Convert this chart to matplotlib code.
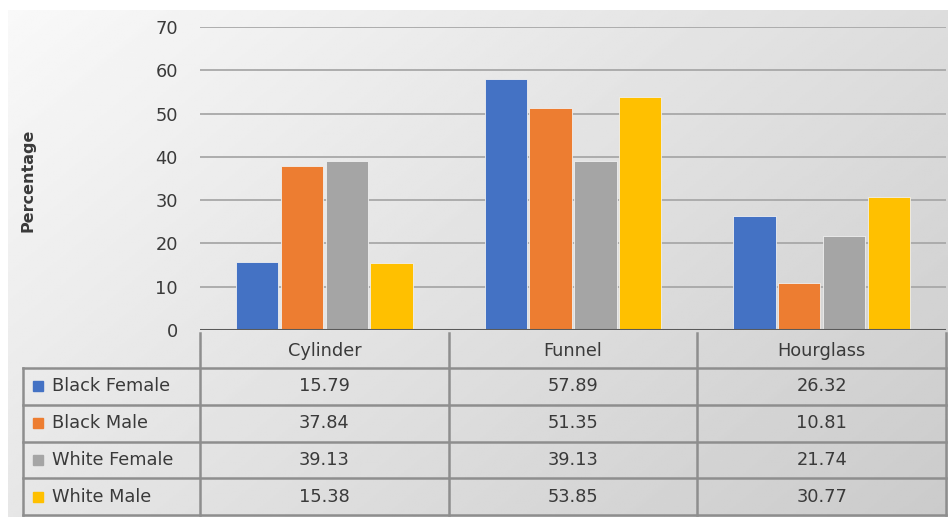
import matplotlib
matplotlib.use("Agg")
import matplotlib.pyplot as plt
import numpy as np

categories = ["Cylinder", "Funnel", "Hourglass"]
series = ["Black Female", "Black Male", "White Female", "White Male"]
black_female = [15.79, 57.89, 26.32]
black_male = [37.84, 51.35, 10.81]
white_female = [39.13, 39.13, 21.74]
white_male = [15.38, 53.85, 30.77]
values = [black_female, black_male, white_female, white_male]
colors = ["#4472C4", "#ED7D31", "#A5A5A5", "#FFC000"]
yticks = [0, 10, 20, 30, 40, 50, 60, 70]

W, H = 949, 519
plt.rcParams['font.family'] = ['DejaVu Sans']
txt = "#3a3a3a"
fs = 12.8

fig = plt.figure(figsize=(W / 100, H / 100), dpi=100)

# background gradient (light top-left -> grey bottom-right)
bg = fig.add_axes([0, 0, 1, 1], zorder=0)
gx, gy = np.meshgrid(np.linspace(0, 1, 300), np.linspace(0, 1, 200))
g = 0.975 - 0.18 * (0.6 * gx + 0.4 * gy)
bg.imshow(g, cmap="gray", vmin=0, vmax=1, aspect="auto",
          extent=[8, 948, 517, 10])
bg.set_xlim(0, W)
bg.set_ylim(H, 0)
bg.axis("off")

# plot area in pixel terms
x0, x1 = 200, 946
ytop, ybot = 27, 330
ax = fig.add_axes([x0 / W, 1 - ybot / H, (x1 - x0) / W, (ybot - ytop) / H], zorder=2)
ax.patch.set_alpha(0)

x = np.arange(len(categories))
width = 0.17
step = 0.18
for i, (name, vals) in enumerate(zip(series, values)):
    ax.bar(x + (i - 1.5) * step, vals, width, color=colors[i], edgecolor="#f0f0f0",
           linewidth=0.6, zorder=3, label=name)

ax.set_xlim(-0.5, len(categories) - 0.5)
ax.set_ylim(0, 70)
ax.set_yticks(yticks)
ax.set_yticklabels([str(t) for t in yticks], color=txt, fontsize=fs)
ax.set_xticks([])
ax.tick_params(axis="y", length=0, pad=16)
ax.yaxis.grid(True, color="#a8a8a8", linewidth=1.3, zorder=0)
for s in ["top", "right", "left", "bottom"]:
    ax.spines[s].set_visible(False)
ax.axhline(0, color="#5a5a5a", linewidth=2.2, zorder=4)

fig.text(28 / W, 1 - 180 / H, "Percentage", rotation=90, ha="center", va="center",
         fontsize=11.5, fontweight="bold", color=txt)

# data table under the axis
tab = fig.add_axes([0, 0, 1, 1], zorder=3)
tab.patch.set_alpha(0)
tab.set_xlim(0, W)
tab.set_ylim(H, 0)
tab.axis("off")

lc = "#8e8e8e"
lw = 1.8
col_edges = np.linspace(x0, x1, len(categories) + 1)
head_top, head_bot = 333, 368
row_h = 36.8
row_edges = [head_bot + k * row_h for k in range(len(series) + 1)]
leg_x = 23

# horizontal lines
for k, yy in enumerate(row_edges):
    tab.plot([leg_x, x1], [yy, yy], color=lc, lw=lw)
# vertical lines
for xe in col_edges:
    tab.plot([xe, xe], [head_top, row_edges[-1]], color=lc, lw=lw)
tab.plot([leg_x, leg_x], [head_bot, row_edges[-1]], color=lc, lw=lw)

for j, cat in enumerate(categories):
    cx = (col_edges[j] + col_edges[j + 1]) / 2
    tab.text(cx, (head_top + head_bot) / 2, cat, ha="center", va="center",
             fontsize=fs, color=txt)

for i, name in enumerate(series):
    cy = (row_edges[i] + row_edges[i + 1]) / 2
    tab.add_patch(plt.Rectangle((33, cy - 5), 10, 10, color=colors[i]))
    tab.text(52, cy, name, ha="left", va="center", fontsize=fs, color=txt)
    for j in range(len(categories)):
        cx = (col_edges[j] + col_edges[j + 1]) / 2
        tab.text(cx, cy, "%.2f" % values[i][j], ha="center", va="center",
                 fontsize=fs, color=txt)

fig.savefig("out.png", dpi=100)
